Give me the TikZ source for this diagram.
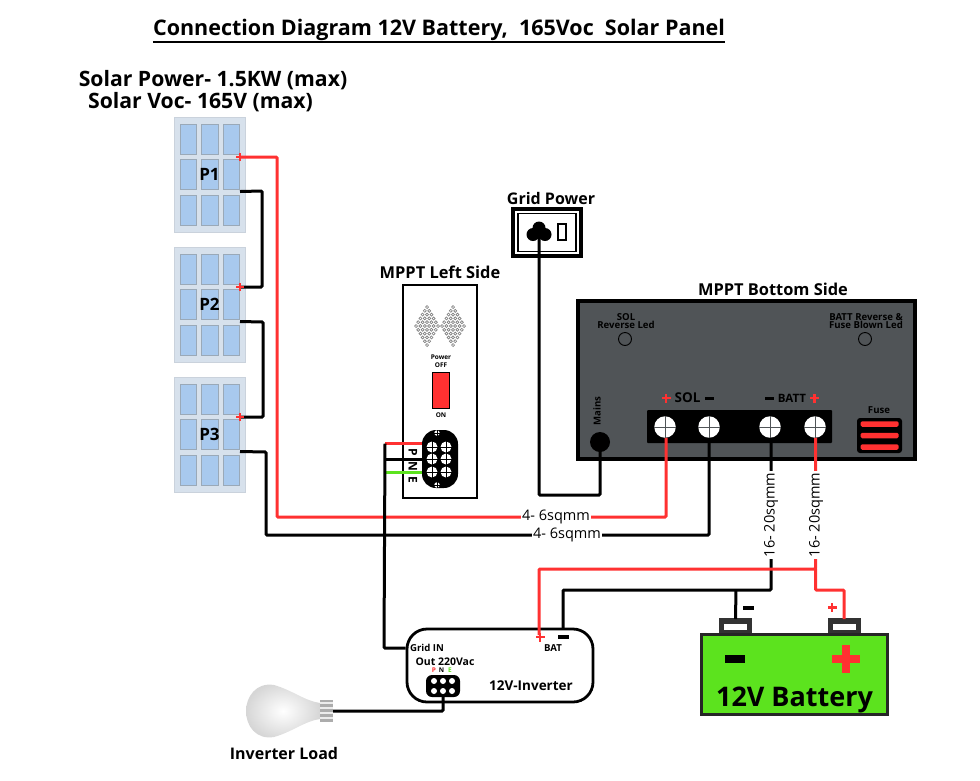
\documentclass[tikz,border=0pt]{standalone}
\usepackage{fontspec}
\setmainfont{Open Sans}
\usetikzlibrary{calc, positioning, shapes.geometric}

\definecolor{wirered}{HTML}{FF3131}
\definecolor{earthgreen}{HTML}{5CE31E}
\definecolor{battgreen}{HTML}{5CE31E}
\definecolor{panelbg}{HTML}{D7E1EC}
\definecolor{cellblue}{HTML}{A8C9EE}
\definecolor{celledge}{HTML}{9AA9B8}
\definecolor{casegray}{HTML}{505457}

\newcommand{\crosshead}[2]{
  \draw[#2, line width=0.9pt] (#1.north) -- (#1.south) (#1.west) -- (#1.east);
}

\begin{document}
\begin{tikzpicture}[
  x=1pt, y=-1pt,
  heading/.style={font=\fontsize{16.4}{18}\selectfont\bfseries, inner sep=0pt},
  tiny/.style={font=\fontsize{9.6}{10}\selectfont\bfseries, inner sep=0pt, align=center},
  micro/.style={font=\fontsize{6.5}{7.5}\selectfont\bfseries, inner sep=0pt, align=center},
  size/.style={font=\fontsize{14.5}{16}\selectfont, fill=white, inner sep=1.5pt},
  blackwire/.style={draw=black, line width=3pt, rounded corners=1pt},
  redwire/.style={draw=wirered, line width=3pt, rounded corners=1pt},
  greenwire/.style={draw=earthgreen, line width=3pt},
  panel/.style={rectangle, fill=panelbg, draw=panelbg!85!gray, line width=0.6pt,
    minimum width=71pt, minimum height=115pt, inner sep=0pt},
  cell/.style={rectangle, fill=cellblue, draw=celledge, line width=0.6pt,
    minimum width=16.5pt, minimum height=30pt, inner sep=0pt},
  panellabel/.style={font=\fontsize{17}{19}\selectfont\bfseries, inner sep=0pt},
  sign/.style={fill=wirered, inner sep=0pt}
]
\useasboundingbox (0,0) rectangle (980,780);

% Titles
\node[font=\fontsize{21.5}{24}\selectfont\bfseries, inner sep=0pt] (title) at (439,30)
  {Connection Diagram 12V Battery,\ \ 165Voc\ \ Solar Panel};
\draw[line width=1.8pt] ([yshift=-1pt]title.south west) -- ([yshift=-1pt]title.south east);
\node[font=\fontsize{21.2}{24}\selectfont\bfseries, inner sep=0pt] (power) at (213,80) {Solar Power- 1.5KW (max)};
\node[font=\fontsize{21.2}{24}\selectfont\bfseries, inner sep=0pt] (voc) at (200.5,102) {Solar Voc- 165V (max)};

% Solar panels
\foreach \pname/\py in {P1/174.5, P2/304.5, P3/434.5}{
  \node[panel] (\pname) at (209.5,\py) {};
  \foreach \dx in {-21,0.5,22}
    \foreach \dy in {-35,0,35.5}
      \node[cell] (cell\pname\dx\dy) at ($(\pname.center)+(\dx,\dy)$) {};
  \node[panellabel] (label\pname) at (\pname.center) {\pname};
  \coordinate (\pname plus) at ($(\pname.center)+(30.5,-17.5)$);
  \coordinate (\pname minus) at ($(\pname.center)+(30.5,17)$);
}

% Wires between the panels
\coordinate (jumpA) at (262,191);
\coordinate (jumpB) at (263,322);
\draw[blackwire] (P1minus) -- (jumpA) -- (jumpA |- P2plus) -- (P2plus);
\draw[blackwire] (P2minus) -- (jumpB) -- (jumpB |- P3plus) -- (P3plus);
\foreach \pname in {P1,P2,P3}{
  \draw[wirered, line width=1.6pt] ($(\pname plus)+(-4,0)$) -- ($(\pname plus)+(4,0)$)
    ($(\pname plus)+(0,-4)$) -- ($(\pname plus)+(0,4)$);
}

% MPPT left side
\node[rectangle, draw, line width=2.8pt, minimum width=74pt, minimum height=213pt, inner sep=0pt] (left_box) at (440,391.5) {};
\node[heading, above=5pt of left_box] (left_title) {MPPT Left Side};
\foreach \cx in {427,453}{
  \foreach \i in {-5,...,5}{
    \pgfmathtruncatemacro{\n}{6-abs(\i)}
    \foreach \j in {1,...,\n}{
      \fill[white] ({\cx+(\j-(\n+1)/2)*4.4},{326+\i*3.8}) circle (1.5pt);
      \draw[gray, line width=0.7pt] ({\cx+(\j-(\n+1)/2)*4.4},{326+\i*3.8}) circle (1.5pt);
    }
  }
}
\node[micro] (power_text) at (441,361) {Power\\OFF};
\node[rectangle, draw, fill=wirered, line width=1.4pt, minimum width=17pt, minimum height=36pt, inner sep=0pt] (switch) at (441,390.5) {};
\node[micro, below=3pt of switch] (on_text) {ON};

\node[rounded corners=14pt, fill=black, minimum width=36pt, minimum height=58pt, inner sep=0pt] (left_conn) at (440,459) {};
\foreach \sx/\sy in {432/447,446/447,432/459,446/459,432/472,446/472}{
  \node[circle, fill=white, minimum size=11pt, inner sep=0pt] (term\sx\sy) at (\sx,\sy) {};
  \crosshead{term\sx\sy}{black}
}
\foreach \sy in {433,485}{
  \node[circle, fill=white, minimum size=5.5pt, inner sep=0pt] (pin\sy) at (437,\sy) {};
  \crosshead{pin\sy}{black}
}
\coordinate (lineP) at (385,443.5);
\coordinate (lineN) at (385,459);
\coordinate (lineE) at (385,472.5);
\draw[redwire] (lineP) -- (lineP -| left_conn.west);
\draw[greenwire] (lineE) -- (lineE -| left_conn.west);
\draw[blackwire] (lineN) -- (lineN -| left_conn.west);
\foreach \ptext/\py in {P/452,N/466,E/480}
  \node[font=\fontsize{12}{13}\selectfont\bfseries, rotate=-90, inner sep=0pt] (pne\ptext) at (413,\py) {\ptext};

% Grid socket
\node[heading, font=\fontsize{16}{18}\selectfont\bfseries] (grid_title) at (551,198) {Grid Power};
\node[rectangle, draw, line width=3.4pt, minimum width=68pt, minimum height=47pt, inner sep=0pt] (socket) at (547,232.5) {};
\node[rectangle, draw, line width=1.5pt, minimum width=58pt, minimum height=38pt, inner sep=0pt] at (547,232.5) (socket_in) {};
\node[circle, fill=black, minimum size=13pt, inner sep=0pt] (pin_top) at (539,228) {};
\node[circle, fill=black, minimum size=13pt, inner sep=0pt] (pin_left) at (533,234.5) {};
\node[circle, fill=black, minimum size=13pt, inner sep=0pt] (pin_right) at (545,234.5) {};
\node[rectangle, draw, line width=2pt, minimum width=8pt, minimum height=16pt, inner sep=0pt] (pin_earth) at (562,231.5) {};

% MPPT bottom side
\node[rectangle, draw, fill=casegray, line width=4pt, minimum width=337pt, minimum height=158pt, inner sep=0pt] (mppt) at (746.5,380) {};
\node[heading] (mppt_title) at (773,289) {MPPT Bottom Side};
\node[tiny] (sol_led_text) at (626,321) {SOL\\[-2pt]Reverse Led};
\node[tiny] (batt_led_text) at (866,321) {BATT Reverse \&\\[-2pt]Fuse Blown Led};
\node[circle, draw, line width=0.9pt, minimum size=13pt, inner sep=0pt] (sol_led) at (625,339) {};
\node[circle, draw, line width=0.9pt, minimum size=13pt, inner sep=0pt] (batt_led) at (865,339) {};
\node[tiny, rotate=90] (mains_text) at (597,411) {Mains};
\node[circle, fill=black, minimum size=20pt, inner sep=0pt] (mains) at (600,442) {};
\node[rectangle, rounded corners=1pt, fill=black, minimum width=185pt, minimum height=33pt, inner sep=0pt] (strip) at (739.5,426.5) {};
\foreach \tname/\tx in {sol_plus/665,sol_minus/709,batt_minus/770,batt_plus/815}{
  \node[circle, fill=white, minimum size=21.5pt, inner sep=0pt] (\tname) at (\tx,427) {};
  \crosshead{\tname}{casegray}
}
\node[font=\fontsize{13.5}{15}\selectfont\bfseries, inner sep=0pt] (sol_text) at (687.5,398) {SOL};
\node[font=\fontsize{11.5}{13}\selectfont\bfseries, inner sep=0pt] (batt_text) at (792,398) {BATT};
\node[sign, minimum width=9pt, minimum height=2.6pt] (sp_a) at (666,398) {};
\node[sign, minimum width=2.6pt, minimum height=9pt] (sp_b) at (666,398) {};
\node[fill=black, minimum width=9pt, minimum height=3pt, inner sep=0pt] (sm_a) at (709.5,398) {};
\node[fill=black, minimum width=9pt, minimum height=3pt, inner sep=0pt] (bm_a) at (769,398) {};
\node[sign, minimum width=9pt, minimum height=2.6pt] (bp_a) at (814.5,398) {};
\node[sign, minimum width=2.6pt, minimum height=9pt] (bp_b) at (814.5,398) {};
\node[tiny] (fuse_text) at (879,410) {Fuse};
\node[rectangle, rounded corners=3pt, fill=black, minimum width=45pt, minimum height=35pt, inner sep=0pt] (fuse) at (879.5,435.5) {};
\foreach \fy in {424,435.5,447}
  \node[rectangle, rounded corners=1.5pt, fill=wirered, minimum width=38pt, minimum height=5.5pt, inner sep=0pt] (bar\fy) at (879.5,\fy) {};

% Inverter
\node[rectangle, draw, rounded corners=20pt, line width=2.8pt, fill=white, minimum width=186pt, minimum height=73pt, inner sep=0pt] (inverter) at (500,665.5) {};
\node[tiny] (grid_in) at (427,648) {Grid IN};
\node[tiny, font=\fontsize{10.5}{11}\selectfont\bfseries] (out_text) at (445,662) {Out 220Vac};
\node[micro, text=wirered] (out_p) at (434,670) {P};
\node[micro] (out_n) at (441.5,670) {N};
\node[micro, text=earthgreen] (out_e) at (450,670) {E};
\node[rounded corners=6pt, fill=black, minimum width=34pt, minimum height=22pt, inner sep=0pt] (out_conn) at (443,686) {};
\foreach \sx in {434,443,452}
  \foreach \sy in {681,691}
    \node[circle, fill=white, minimum size=6pt, inner sep=0pt] (out\sx\sy) at (\sx,\sy) {};
\node[font=\fontsize{13.5}{16}\selectfont\bfseries, inner sep=0pt] (inverter_text) at (531,686) {12V-Inverter};
\node[tiny] (bat_text) at (553,648.5) {BAT};
\node[sign, minimum width=9pt, minimum height=2.4pt] (ip_a) at (540,637) {};
\node[sign, minimum width=2.4pt, minimum height=9pt] (ip_b) at (540,637) {};
\node[fill=black, minimum width=11pt, minimum height=4pt, inner sep=0pt] (im_a) at (563.5,637) {};

% Lamp
\shade[inner color=white, outer color=gray!32]
  (320,703) .. controls (305,701) and (292,690) .. (274,685)
  .. controls (256,682) and (246,697) .. (246,711)
  .. controls (246,726) and (256,740) .. (274,737)
  .. controls (292,732) and (305,721) .. (320,719) -- cycle;
\node[rectangle, fill=gray!65, minimum width=13pt, minimum height=22pt, inner sep=0pt] (lamp_base) at (326.5,711) {};
\foreach \ty in {703,708,713,718}
  \draw[gray!15, line width=1.1pt] (320,\ty) -- (333,\ty);
\node[heading, font=\fontsize{16}{18}\selectfont\bfseries] (lamp_text) at (284,753.5) {Inverter Load};

% Battery
\node[rectangle, draw=black!85, line width=3pt, fill=battgreen, minimum width=186pt, minimum height=80pt, inner sep=0pt] (battery) at (794.5,674.5) {};
\foreach \bname/\bx in {neg_post/735.5,pos_post/844}{
  \node[rectangle, fill=black!80, minimum width=33pt, minimum height=15pt, inner sep=0pt] (\bname) at (\bx,625.5) {};
  \node[rectangle, fill=white, minimum width=23pt, minimum height=5.5pt, inner sep=0pt] (\bname_in) at (\bx,627) {};
}
\node[fill=black, minimum width=20pt, minimum height=8pt, inner sep=0pt] (big_minus) at (735,659) {};
\node[sign, minimum width=28pt, minimum height=8pt] (big_plus_a) at (846,659) {};
\node[sign, minimum width=8pt, minimum height=28pt] (big_plus_b) at (846,659) {};
\node[font=\fontsize{27}{30}\selectfont\bfseries, inner sep=0pt] (battery_text) at (794.5,700) {12V Battery};
\node[fill=black, minimum width=11pt, minimum height=4pt, inner sep=0pt] (small_minus) at (748,608) {};
\node[sign, minimum width=9pt, minimum height=2.4pt] (small_plus_a) at (832,607.5) {};
\node[sign, minimum width=2.4pt, minimum height=9pt] (small_plus_b) at (832,607.5) {};

% Edges
\coordinate (solred_a) at (277,157);
\coordinate (solred_b) at (277,517);
\coordinate (solred_c) at (666,517);
\draw[redwire] (P1plus) -- (solred_a) -- (solred_b) -- (solred_c) -- (sol_plus.south -| solred_c);
\coordinate (solblk_a) at (266,452);
\coordinate (solblk_b) at (266,535);
\coordinate (solblk_c) at (709,535);
\draw[blackwire] (P3minus) -- (solblk_a) -- (solblk_b) -- (solblk_c) -- (sol_minus.south);

\coordinate (mains_a) at (600,495);
\coordinate (mains_b) at (539,495);
\draw[blackwire] (mains.center) -- (mains_a) -- (mains_b) -- (pin_top.center);

\coordinate (grid_a) at (384,648);
\draw[blackwire] (lineP) -- (grid_a) -- (grid_a -| inverter.west);

\coordinate (batblk_a) at (771,590);
\coordinate (batblk_b) at (563,590);
\coordinate (batblk_c) at (563,628);
\draw[blackwire] (batt_minus.south -| batblk_a) -- (batblk_a) -- (batblk_b) -- (batblk_c);
\coordinate (negtap) at (736,590);
\draw[blackwire] (negtap) -- (neg_post.center |- 0,619);
\coordinate (batred_a) at (815.5,569);
\coordinate (batred_b) at (539,569);
\coordinate (batred_c) at (539,635);
\draw[redwire] (batt_plus.south -| batred_a) -- (batred_a) -- (batred_b) -- (batred_c);
\coordinate (posred_a) at (815.5,590);
\coordinate (posred_b) at (844,590);
\draw[redwire] (batred_a) -- (posred_a) -- (posred_b) -- (pos_post.center |- 0,619);

\coordinate (load_a) at (443,711);
\draw[blackwire] (out_conn.south) -- (load_a) -- (lamp_base.center -| lamp_base.east);

% Wire labels
\node[size] (size_red) at (556,517) {4- 6sqmm};
\node[size] (size_blk) at (567,535) {4- 6sqmm};
\node[size, rotate=90] (size_neg) at (771,515) {16- 20sqmm};
\node[size, rotate=90] (size_pos) at (816,515) {16- 20sqmm};

\end{tikzpicture}
\end{document}
